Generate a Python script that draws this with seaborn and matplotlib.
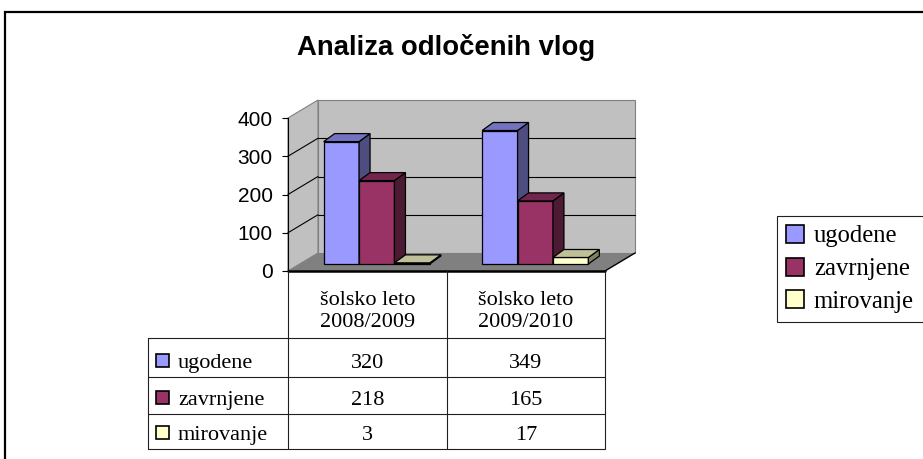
import numpy as np
import pandas as pd
import seaborn as sns
import matplotlib.pyplot as plt
from matplotlib.patches import Polygon, Rectangle, Patch
from matplotlib.lines import Line2D
from matplotlib.transforms import IdentityTransform, offset_copy

# podatki
leta = ["šolsko leto\n2008/2009", "šolsko leto\n2009/2010"]
vrste = ["ugodene", "zavrnjene", "mirovanje"]
ugodene = [320, 349]
zavrnjene = [218, 165]
mirovanje = [3, 17]
y_ticks = [0, 100, 200, 300, 400]

barve = ["#9999FF", "#993366", "#FFFFCC"]
barve_vrh = ["#7373BF", "#73264D", "#BFBF99"]
barve_stran = ["#4D4D80", "#4D1A33", "#808066"]

W, H = 923, 459
GLOBINA = np.array([30, 18])      # globina "3D" ozadja v pikslih
ZAMIK = np.array([9.5, 7])        # zamik stolpcev v globino
STOLPEC = np.array([11, 8])       # globina stolpca

sns.set_style("white")
plt.rcParams["font.family"] = ["Liberation Sans", "DejaVu Sans"]
plt.rcParams["text.color"] = "black"
plt.rcParams["ytick.color"] = "black"
plt.rcParams["ytick.labelcolor"] = "black"
SERIF = ["Liberation Serif", "DejaVu Serif"]

df = pd.DataFrame({
    "leto": leta * 3,
    "vrsta": np.repeat(vrste, 2),
    "vrednost": ugodene + zavrnjene + mirovanje,
})

fig = plt.figure(figsize=(W / 100, H / 100), dpi=100)
ax = fig.add_axes([288 / W, (H - 271) / H, 317 / W, 153 / H])
ax.set_facecolor("none")

sns.barplot(data=df, x="leto", y="vrednost", hue="vrsta", palette=barve,
            width=0.67, saturation=1, edgecolor="black", linewidth=0.9,
            legend=False, ax=ax)

ax.set_xlim(-0.5, 1.5)
ax.set_ylim(0, 400)
ax.set_yticks(y_ticks)
ax.set_xticks([])
ax.set_xlabel("")
ax.set_ylabel("")
ax.tick_params(axis="y", left=True, length=4.5, width=0.8, pad=6.5,
               labelsize=15, color="black", labelcolor="black")
for s in ["top", "right", "bottom"]:
    ax.spines[s].set_visible(False)
ax.spines["left"].set_color("black")
ax.spines["left"].set_linewidth(0.8)
ax.spines["left"].set_zorder(20)


def T(x, y):
    return ax.transData.transform((x, y))


def poly(pts, fc, ec="none", lw=0.8, z=1):
    ax.add_patch(Polygon(np.array(pts), closed=True, facecolor=fc, edgecolor=ec,
                         linewidth=lw, transform=IdentityTransform(),
                         clip_on=False, zorder=z))


def line(p, q, color="black", lw=0.8, z=2):
    ax.add_line(Line2D([p[0], q[0]], [p[1], q[1]], color=color, linewidth=lw,
                       transform=IdentityTransform(), clip_on=False, zorder=z))


# tla in stene
fl, fr = T(-0.5, 0), T(1.5, 0)
tl, tr = T(-0.5, 400), T(1.5, 400)
poly([fl, fr, fr + GLOBINA, fl + GLOBINA], "#808080", z=0.5)
poly([fl + GLOBINA, fr + GLOBINA, tr + GLOBINA, tl + GLOBINA], "#C0C0C0", "#808080", z=0.4)
poly([fl, fl + GLOBINA, tl + GLOBINA, tl], "#C0C0C0", "#808080", z=0.4)
for v in y_ticks[1:-1]:
    a, b = T(-0.5, v), T(1.5, v)
    line(a, a + GLOBINA, lw=0.8, z=0.6)
    line(a + GLOBINA, b + GLOBINA, lw=0.8, z=0.6)
line(fl, fr, lw=1.8, z=20)
line(fr, fr + GLOBINA, lw=1.0, z=20)

# stolpci s stranicami
premik = offset_copy(ax.transData, fig=fig, x=ZAMIK[0], y=ZAMIK[1], units="dots")
for k, cont in enumerate(ax.containers):
    for p in cont:
        p.set_transform(premik)
        p.set_zorder(3 + 2 * k)
        p.set_clip_on(False)
        x0, y0 = T(p.get_x(), 0) + ZAMIK
        x1, y1 = T(p.get_x() + p.get_width(), p.get_height()) + ZAMIK
        dx, dy = STOLPEC
        poly([(x1, y0), (x1 + dx, y0 + dy), (x1 + dx, y1 + dy), (x1, y1)],
             barve_stran[k], "black", 0.9, 4 + 2 * k)
        poly([(x0, y1), (x1, y1), (x1 + dx, y1 + dy), (x0 + dx, y1 + dy)],
             barve_vrh[k], "black", 0.9, 4 + 2 * k)


# tabela podatkov pod grafom
def fline(x0, y0, x1, y1, color="#202020", lw=0.8):
    fig.add_artist(Line2D([x0, x1], [H - y0, H - y1], color=color, linewidth=lw,
                          transform=IdentityTransform()))


stolpci = [148, T(-0.5, 0)[0], T(0.5, 0)[0], T(1.5, 0)[0]]
vrstice = [H - fl[1], 338, 377, 414, 449]
fline(stolpci[0], vrstice[1], stolpci[3], vrstice[1])
for yy in vrstice[2:]:
    fline(stolpci[0], yy, stolpci[3], yy)
fline(stolpci[0], vrstice[1], stolpci[0], vrstice[-1])
for xx in stolpci[1:]:
    fline(xx, vrstice[0], xx, vrstice[-1])

for i, leto in enumerate(leta):
    cx = T(i, 0)[0]
    fig.text(cx / W, 1 - 327 / H, leto, ha="center", va="baseline",
             multialignment="center", linespacing=1.2, fontsize=16, family=SERIF)

vrednosti = [ugodene, zavrnjene, mirovanje]
osnovnice = [368, 405, 440]
for k, (ime, vals, yb) in enumerate(zip(vrste, vrednosti, osnovnice)):
    fig.add_artist(Rectangle((156, H - yb + 1), 13, 13, facecolor=barve[k],
                             edgecolor="black", linewidth=1.2,
                             transform=IdentityTransform()))
    fig.text(178 / W, 1 - yb / H, ime, ha="left", va="baseline",
             fontsize=16, family=SERIF)
    for i, v in enumerate(vals):
        fig.text(T(i, 0)[0] / W, 1 - yb / H, str(v), ha="center", va="baseline",
                 fontsize=16, family=SERIF)

# legenda
roc = [Patch(facecolor=c, edgecolor="black", linewidth=1.2) for c in barve]
fig.legend(roc, vrste, loc="upper left",
           bbox_to_anchor=(777 / W, 1 - 216 / H, 200 / W, 0), mode="expand",
           prop={"family": SERIF, "size": 17.7}, frameon=True, fancybox=False,
           edgecolor="#202020", framealpha=1, borderpad=0.35, labelspacing=0.42,
           handlelength=0.75, handleheight=0.75, handletextpad=0.4,
           borderaxespad=0, labelcolor="black").get_frame().set_linewidth(0.8)

# naslov in okvir
fig.text(446 / W, 1 - 55 / H, "Analiza odločenih vlog", ha="center", va="baseline",
         fontsize=19.8, fontweight="bold", color="black")
fig.add_artist(Rectangle((5, -20), 1000, H - 12 + 20, facecolor="none",
                         edgecolor="black", linewidth=1.6,
                         transform=IdentityTransform()))

fig.savefig("out.png", dpi=100)
